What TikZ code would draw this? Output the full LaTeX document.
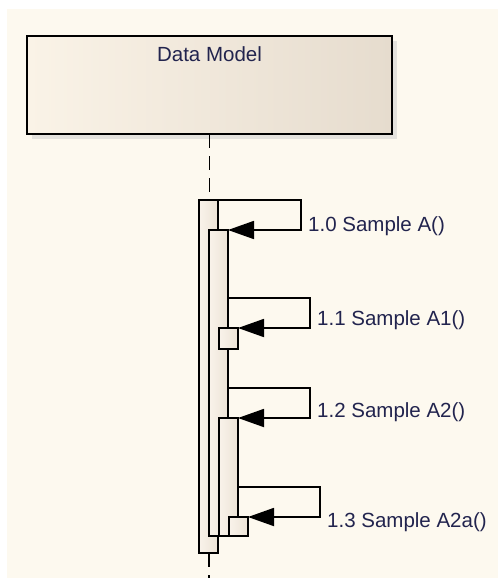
\documentclass[tikz,border=0pt]{standalone}
\usepackage{fontspec}
\setmainfont{Liberation Sans}
\usetikzlibrary{arrows.meta,shadows}

\definecolor{bgcream}{RGB}{253,249,239}
\definecolor{boxlight}{RGB}{250,243,231}
\definecolor{boxdark}{RGB}{230,220,206}
\definecolor{barlight}{RGB}{249,243,234}
\definecolor{bardark}{RGB}{236,227,214}
\definecolor{labelblue}{RGB}{34,36,78}

\begin{document}
\begin{tikzpicture}[>={Triangle[length=26pt,width=18pt]}, x=1pt, y=-1pt,
    bar/.style={draw, line width=1.8pt, left color=barlight, right color=bardark,
      minimum width=19pt, inner sep=0pt, outer sep=0pt, anchor=north west},
    msg/.style={->, line width=1.8pt},
    lifeline/.style={line width=1.8pt, dash pattern=on 14pt off 8pt},
    lbl/.style={anchor=base west, inner sep=0pt, text=labelblue,
      font=\fontsize{20.5}{24}\selectfont}]
  \useasboundingbox (0,0) rectangle (498,578);
  % Canvas
  \fill[bgcream] (7,9) rectangle (498,578);
  % Lifeline head
  \node[draw, line width=2.3pt, anchor=north west, minimum width=365pt,
    minimum height=98pt, inner sep=0pt, outer sep=0pt,
    left color=boxlight, right color=boxdark,
    drop shadow={shadow xshift=5pt, shadow yshift=-5pt, fill=black!20}]
    (model) at (27,36) {};
  \node[lbl, anchor=base] (title) at (209.5,61.5) {Data Model};
  % Activations
  \node[bar, minimum height=353pt] (act0) at (199,200) {};
  \node[bar, minimum height=306pt] (act1) at (209,230) {};
  \node[bar, minimum height=21pt] (call11) at (219,328) {};
  \node[bar, minimum height=118pt] (act2) at (219,418) {};
  \node[bar, minimum height=19pt] (call13) at (229,517) {};
  % Lifeline
  \coordinate (lifeend) at (209,578);
  \draw[lifeline] (model.south) -- (model.south |- act0.north);
  \draw[lifeline] (act0.south -| lifeend) -- (lifeend);
  % Self messages
  \draw[msg] (act0.north east) -- ++(83,0) |- (act1.north east);
  \draw[msg] ([yshift=-68pt]act1.north east) -- ++(82,0) |- (call11.north east);
  \draw[msg] ([yshift=-158pt]act1.north east) -- ++(82,0) |- (act2.north east);
  \draw[msg] ([yshift=-69pt]act2.north east) -- ++(82,0) |- (call13.north east);
  % Message labels
  \node[lbl] (l10) at (308,231) {1.0 Sample A()};
  \node[lbl] (l11) at (317,325) {1.1 Sample A1()};
  \node[lbl] (l12) at (317,417) {1.2 Sample A2()};
  \node[lbl] (l13) at (327,527) {1.3 Sample A2a()};
\end{tikzpicture}
\end{document}
